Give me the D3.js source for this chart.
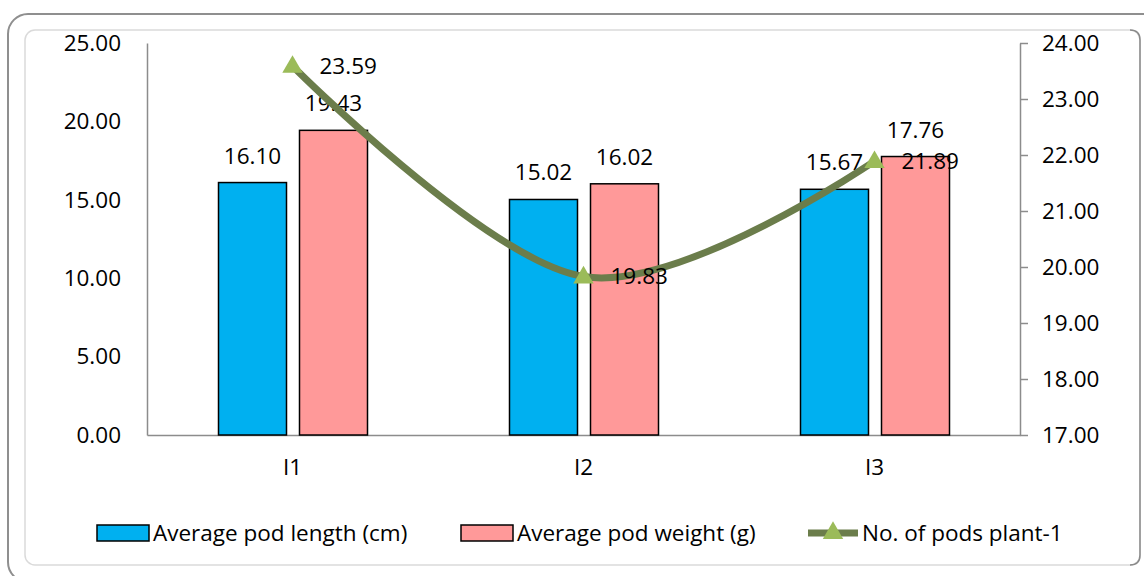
<!DOCTYPE html>
<html>
<head>
<meta charset="utf-8">
<script src="https://cdn.jsdelivr.net/npm/d3@7"></script>
<style>
  body { margin: 0; background: #fff; }
  svg text { font-family: "Open Sans", sans-serif; fill: #000; }
</style>
</head>
<body>
<svg id="chart" width="1144" height="576"></svg>
<script>
const categories = ["I1", "I2", "I3"]
const podLength = [16.10, 15.02, 15.67]
const podWeight = [19.43, 16.02, 17.76]
const podsPerPlant = [23.59, 19.83, 21.89]
const leftTicks = [0, 5, 10, 15, 20, 25]
const rightTicks = [17, 18, 19, 20, 21, 22, 23, 24]
const seriesNames = ["Average pod length (cm)", "Average pod weight (g)", "No. of pods plant-1"]

const barColors = ["#00B0F0", "#FF9999"]
const lineColor = "#6B7D4B"
const markerColor = "#9BBB59"
const axisColor = "#8C8C8C"
const fontSize = 22.5

const svg = d3.select("#chart")

// chart frame (outer rounded border + inner panel)
svg.append("rect")
    .attr("x", 8).attr("y", 14).attr("width", 1160).attr("height", 568)
    .attr("rx", 20)
    .attr("fill", "none").attr("stroke", "#8f8f8f").attr("stroke-width", 2)
svg.append("rect")
    .attr("x", 25).attr("y", 30).attr("width", 1115).attr("height", 535)
    .attr("rx", 10)
    .attr("fill", "none").attr("stroke", "#dadada").attr("stroke-width", 1.5)
svg.append("path")
    .attr("d", "M1130,30 Q1140,30 1140,40 L1140,555 Q1140,565 1130,565")
    .attr("fill", "none").attr("stroke", "#8a8a8a").attr("stroke-width", 1.5)

const plot = {left: 147, right: 1020, top: 43, bottom: 435}

const x = d3.scaleBand()
    .domain(categories)
    .range([plot.left, plot.right])

const yLeft = d3.scaleLinear().domain([0, 25]).range([plot.bottom, plot.top])
const yRight = d3.scaleLinear().domain([17, 24]).range([plot.bottom, plot.top])

const barWidth = 68
const barOffsets = [-74, 7]

// axes
const leftAxis = svg.append("g")
    .attr("transform", `translate(${plot.left},0)`)
    .call(d3.axisLeft(yLeft).tickValues(leftTicks).tickSize(0).tickPadding(26).tickFormat(d3.format(".2f")))
leftAxis.select(".domain").attr("stroke", axisColor).attr("stroke-width", 1.5)

const rightAxis = svg.append("g")
    .attr("transform", `translate(${plot.right},0)`)
    .call(d3.axisRight(yRight).tickValues(rightTicks).tickSize(8).tickSizeOuter(0).tickPadding(14).tickFormat(d3.format(".2f")))
rightAxis.select(".domain").attr("stroke", axisColor).attr("stroke-width", 1.5)
rightAxis.selectAll(".tick line").attr("stroke", axisColor).attr("stroke-width", 1.5)

const bottomAxis = svg.append("g")
    .attr("transform", `translate(0,${plot.bottom})`)
    .call(d3.axisBottom(x).tickSize(0).tickPadding(24))
bottomAxis.select(".domain").attr("stroke", axisColor).attr("stroke-width", 1.5)

svg.selectAll(".tick text").attr("font-size", fontSize).attr("font-family", "Open Sans, sans-serif")

// bars
const barSeries = [podLength, podWeight]
barSeries.forEach((values, s) => {
    const g = svg.append("g")
    g.selectAll("rect")
        .data(values)
        .join("rect")
        .attr("x", (d, i) => x(categories[i]) + x.bandwidth() / 2 + barOffsets[s])
        .attr("y", d => yLeft(d))
        .attr("width", barWidth)
        .attr("height", d => yLeft(0) - yLeft(d))
        .attr("fill", barColors[s])
        .attr("stroke", "#000")
        .attr("stroke-width", 1.5)

    g.selectAll("text")
        .data(values)
        .join("text")
        .attr("x", (d, i) => x(categories[i]) + x.bandwidth() / 2 + barOffsets[s] + barWidth / 2)
        .attr("y", d => yLeft(d) - 19)
        .attr("text-anchor", "middle")
        .attr("font-size", fontSize)
        .text(d => d.toFixed(2))
})

// smoothed line on right axis
const pts = podsPerPlant.map((d, i) => [x(categories[i]) + x.bandwidth() / 2, yRight(d)])
const line = d3.line().curve(d3.curveCatmullRom.alpha(0))

svg.append("path")
    .attr("d", line(pts))
    .attr("fill", "none")
    .attr("stroke", lineColor)
    .attr("stroke-width", 7)
    .attr("stroke-linecap", "round")

const triangle = d3.symbol().type(d3.symbolTriangle).size(180)

svg.append("g").selectAll("path")
    .data(pts)
    .join("path")
    .attr("d", triangle)
    .attr("transform", d => `translate(${d[0]},${d[1] + 1})`)
    .attr("fill", markerColor)

svg.append("g").selectAll("text")
    .data(podsPerPlant)
    .join("text")
    .attr("x", (d, i) => pts[i][0] + 27)
    .attr("y", (d, i) => pts[i][1])
    .attr("dy", "0.35em")
    .attr("font-size", fontSize)
    .text(d => d.toFixed(2))

// legend
const legend = svg.append("g")
const legendY = 533
const legendX = [97, 461, 808]

;[0, 1].forEach(s => {
    legend.append("rect")
        .attr("x", legendX[s]).attr("y", legendY - 8)
        .attr("width", 52).attr("height", 16)
        .attr("fill", barColors[s])
        .attr("stroke", "#000").attr("stroke-width", 1.5)
})
legend.append("line")
    .attr("x1", legendX[2]).attr("x2", legendX[2] + 50)
    .attr("y1", legendY).attr("y2", legendY)
    .attr("stroke", lineColor).attr("stroke-width", 7)
legend.append("path")
    .attr("d", triangle)
    .attr("transform", `translate(${legendX[2] + 25},${legendY})`)
    .attr("fill", markerColor)

legend.selectAll("text")
    .data(seriesNames)
    .join("text")
    .attr("x", (d, i) => legendX[i] + (i < 2 ? 56 : 54))
    .attr("y", legendY)
    .attr("dy", "0.35em")
    .attr("font-size", fontSize)
    .text(d => d)
</script>
</body>
</html>
